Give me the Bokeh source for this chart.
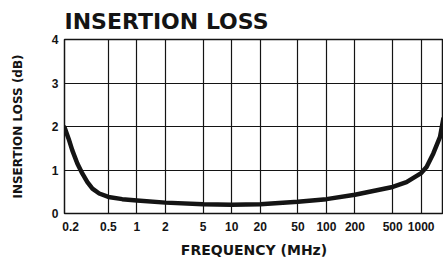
from bokeh.plotting import figure
from bokeh.models import FixedTicker, CustomJSTickFormatter
from bokeh.embed import file_html
from bokeh.resources import INLINE

# Data
freq_mhz = [0.172, 0.19, 0.208, 0.235, 0.265, 0.3, 0.339, 0.4, 0.5, 0.7, 1, 2, 5, 10, 20,
            50, 100, 200, 500, 700, 1000, 1140, 1343, 1581, 1714]
loss_db = [1.98, 1.72, 1.45, 1.15, 0.92, 0.72, 0.57, 0.46, 0.38, 0.33, 0.30, 0.25, 0.21, 0.20, 0.21,
           0.27, 0.33, 0.43, 0.61, 0.72, 0.93, 1.07, 1.38, 1.76, 2.18]
x_ticks = [0.2, 0.5, 1, 2, 5, 10, 20, 50, 100, 200, 500, 1000]
x_grid = [0.5, 1, 2, 5, 10, 20, 50, 100, 200, 500, 1000]
y_ticks = [0, 1, 2, 3, 4]
y_grid = [1, 2, 3]

INK = "#141414"

p = figure(width=443, height=261, x_axis_type="log", x_range=(0.172, 1720), y_range=(0, 4),
           output_backend="svg", toolbar_location=None,
           min_border_left=64, min_border_right=0, min_border_top=39, min_border_bottom=48,
           background_fill_color="white", border_fill_color="white")

p.title.text = "INSERTION LOSS"
p.title.text_font = "DejaVu Sans"
p.title.text_font_size = "22px"
p.title.text_font_style = "bold"
p.title.text_color = INK
p.title.align = "left"
p.title.standoff = 12

p.outline_line_color = INK
p.outline_line_width = 1.5

# axes
for ax in (p.xaxis[0], p.yaxis[0]):
    ax.axis_line_color = None
    ax.major_tick_line_color = None
    ax.minor_tick_line_color = None
    ax.major_tick_out = 0
    ax.major_tick_in = 0
    ax.minor_tick_out = 0
    ax.major_label_text_font = "Liberation Sans"
    ax.major_label_text_font_style = "bold"
    ax.major_label_text_font_size = "12px"
    ax.major_label_text_color = INK
    ax.axis_label_text_font = "DejaVu Sans"
    ax.axis_label_text_font_style = "bold"
    ax.axis_label_text_color = INK

p.xaxis.ticker = FixedTicker(ticks=x_ticks)
p.xaxis.formatter = CustomJSTickFormatter(code="return tick.toString();")
p.xaxis.major_label_standoff = 8
p.xaxis.axis_label = "FREQUENCY (MHz)"
p.xaxis.axis_label_text_font_size = "14px"
p.xaxis.axis_label_standoff = 8

p.yaxis.ticker = FixedTicker(ticks=y_ticks)
p.yaxis.major_label_standoff = 6
p.yaxis.axis_label = "INSERTION LOSS (dB)"
p.yaxis.axis_label_text_font_size = "12px"
p.yaxis.axis_label_standoff = 24

p.xgrid.ticker = FixedTicker(ticks=x_grid)
p.ygrid.ticker = FixedTicker(ticks=y_grid)
for g in (p.xgrid[0], p.ygrid[0]):
    g.grid_line_color = INK
    g.grid_line_width = 1.2
    g.grid_line_alpha = 1.0
    g.minor_grid_line_color = None

p.line(freq_mhz, loss_db, line_color=INK, line_width=4.5, line_join="round", line_cap="round")

open("out.html", "w").write(file_html(p, INLINE))
